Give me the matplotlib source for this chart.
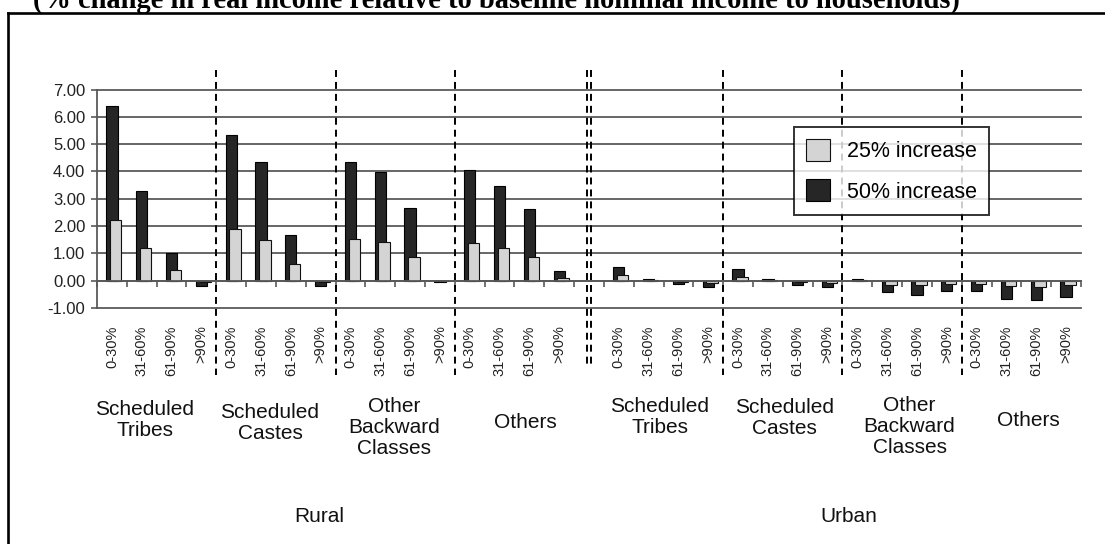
import matplotlib
matplotlib.use('Agg')
import matplotlib.pyplot as plt
import matplotlib.transforms as mtransforms
from matplotlib.lines import Line2D
import numpy as np

plt.rcParams['font.family'] = ['Liberation Sans', 'DejaVu Sans']
plt.rcParams['lines.scale_dashes'] = False

W, H, DPI = 1105, 544, 100

# ---------------- data ----------------
title_text = "(% change in real income relative to baseline nominal income to households)"
income_bands = ['0-30%', '31-60%', '61-90%', '>90%']
social_groups = ['Scheduled\nTribes', 'Scheduled\nCastes', 'Other\nBackward\nClasses', 'Others']
areas = ['Rural', 'Urban']
series_names = ['25% increase', '50% increase']

rural_25 = [2.23, 1.19, 0.39, -0.03, 1.89, 1.49, 0.60, -0.03, 1.53, 1.41, 0.88, -0.02, 1.39, 1.19, 0.88, 0.11]
rural_50 = [6.41, 3.30, 1.03, -0.18, 5.35, 4.35, 1.69, -0.18, 4.35, 3.98, 2.67, -0.04, 4.06, 3.45, 2.61, 0.35]
urban_25 = [0.20, 0.02, -0.04, -0.08, 0.14, 0.02, -0.06, -0.08, 0.03, -0.14, -0.14, -0.13, -0.13, -0.18, -0.23, -0.17]
urban_50 = [0.50, 0.06, -0.11, -0.23, 0.44, 0.05, -0.16, -0.22, 0.07, -0.41, -0.51, -0.37, -0.36, -0.66, -0.72, -0.60]

# ---------------- layout / style ----------------
DARK = '#262626'
LIGHT = '#d4d4d4'
GRID = '#5a5a5a'
n_per_area = len(income_bands) * len(social_groups)
gap_slots = 1
x_r = np.arange(n_per_area)
x_u = np.arange(n_per_area) + n_per_area + gap_slots
n_slots = 2 * n_per_area + gap_slots

fig = plt.figure(figsize=(W / DPI, H / DPI), dpi=DPI)
ax = fig.add_axes([97 / W, 1 - 308 / H, (1081 - 97) / W, (308 - 89.5) / H])

bw = 0.38
lw_bar = 0.8
b50 = ax.bar(np.concatenate([x_r, x_u]), rural_50 + urban_50, width=bw, color=DARK,
             edgecolor='black', linewidth=lw_bar, zorder=3, label=series_names[1])
b25 = ax.bar(np.concatenate([x_r, x_u]) + 0.13, rural_25 + urban_25, width=bw, color=LIGHT,
             edgecolor='#111111', linewidth=lw_bar, zorder=4, label=series_names[0])

ax.set_xlim(-0.5, n_slots - 0.5)
ax.set_ylim(-1, 7)
ax.set_yticks(np.arange(-1, 8, 1))
ax.set_yticklabels([f'{v:.2f}' for v in np.arange(-1, 8, 1)], fontsize=12, color='#222222')
ax.yaxis.grid(True, color=GRID, linewidth=1.3, zorder=1)
for gl in ax.get_ygridlines():
    gl.set_clip_on(False)
ax.set_axisbelow(True)

for s in ['top', 'right']:
    ax.spines[s].set_visible(False)
ax.spines['left'].set_color(GRID)
ax.spines['left'].set_linewidth(1.3)
ax.spines['bottom'].set_position(('data', 0))
ax.spines['bottom'].set_color(GRID)
ax.spines['bottom'].set_linewidth(1.3)
ax.spines['bottom'].set_zorder(5)
ax.tick_params(axis='y', direction='out', length=4, width=1.2, color=GRID, pad=4.5)

# x ticks: labels at slot centers, minor tick marks at slot boundaries
xt = np.concatenate([x_r, x_u])
ax.set_xticks(xt)
ax.set_xticklabels(income_bands * (2 * len(social_groups)), rotation=90, fontsize=10.5,
                   va='top', color='#222222')
ax.set_xticks(np.arange(-0.5, n_slots, 1), minor=True)
ax.tick_params(axis='x', which='major', length=0, pad=32)
ax.tick_params(axis='x', which='minor', direction='out', length=4, width=1.2, color=GRID)

# dashed separators
bt = mtransforms.blended_transform_factory(ax.transData, fig.transFigure)
y_top, y_bot = 1 - 70 / H, 1 - 375 / H
sep_positions = []
for a, base in enumerate([0, n_per_area + gap_slots]):
    for g in range(1, len(social_groups)):
        sep_positions.append(base + g * len(income_bands) - 0.5)
for xs in sep_positions:
    ax.add_line(Line2D([xs, xs], [y_top, y_bot], transform=bt, color='black',
                       linewidth=1.4, dashes=(5, 3.6), clip_on=False, zorder=6))
x_mid = n_per_area + (gap_slots - 1) / 2
for d in (-0.06, 0.06):
    ax.add_line(Line2D([x_mid + d, x_mid + d], [y_top, 1 - 368 / H], transform=bt, color='black',
                       linewidth=1.4, dashes=(5, 3.6), clip_on=False, zorder=6))

# group labels
group_offsets = [[-0.39, -0.2, -0.03, 0.35], [-0.13, 0.05, 0.25, 0.23]]
group_tops = [[400, 403, 397, 413], [397, 398, 396, 411]]
for a, base in enumerate([0, n_per_area + gap_slots]):
    for g, name in enumerate(social_groups):
        cx = base + g * len(income_bands) + (len(income_bands) - 1) / 2 + group_offsets[a][g]
        ax.text(cx, 1 - group_tops[a][g] / H, name, transform=bt, ha='center', va='top',
                fontsize=15, linespacing=1.12, multialignment='center', color='#111111')
area_offsets = [-0.53, 0.2]
for a, (name, base) in enumerate(zip(areas, [0, n_per_area + gap_slots])):
    cx = base + (n_per_area - 1) / 2 + area_offsets[a]
    ax.text(cx, 1 - 516 / H, name, transform=bt, ha='center', va='center', fontsize=15,
            color='#111111')

# legend
leg = fig.legend(handles=[b25, b50], labels=series_names, loc='upper left',
                 bbox_to_anchor=(794 / W, 1 - 127 / H), bbox_transform=fig.transFigure,
                 fontsize=15.5, frameon=True, fancybox=False, shadow=False,
                 handlelength=1.12, handleheight=1.2, handletextpad=0.8,
                 labelspacing=0.8, borderpad=0.55, borderaxespad=0)
leg.get_frame().set_edgecolor('black')
leg.get_frame().set_linewidth(1.4)
leg.get_frame().set_facecolor('white')
leg.set_zorder(10)

# outer frame
fig.add_artist(Line2D([8 / W, 8 / W], [-0.01, 1 - 13 / H], transform=fig.transFigure,
                      color='black', linewidth=1.9))
fig.add_artist(Line2D([8 / W, 1.01], [1 - 13 / H, 1 - 13 / H], transform=fig.transFigure,
                      color='black', linewidth=1.9))

# title (clipped at top), sized to span the measured width
t = fig.text(33 / W, 1 - 8 / H, title_text, ha='left', va='baseline',
             fontsize=18, fontweight='bold', family=['Liberation Serif', 'DejaVu Serif'])
r = fig.canvas.get_renderer()
wpx = t.get_window_extent(renderer=r).width
t.set_fontsize(18 * 927 / wpx)

fig.savefig('out.png', dpi=DPI)
